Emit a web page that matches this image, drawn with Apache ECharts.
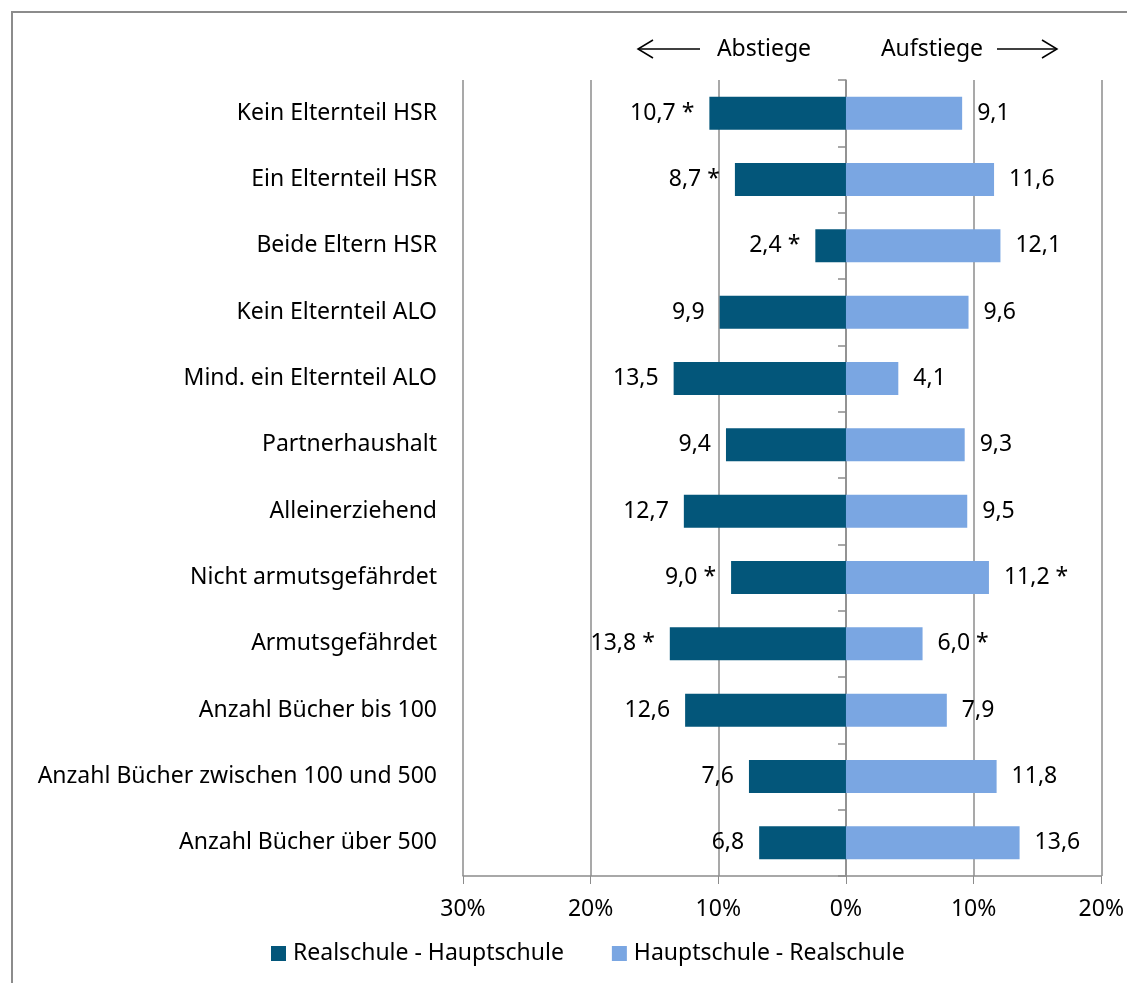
<!DOCTYPE html>
<html>
<head>
<meta charset="utf-8">
<script src="https://cdn.jsdelivr.net/npm/echarts@6/dist/echarts.min.js"></script>
<style>
  html, body { margin: 0; padding: 0; background: #fff; }
  #chart { width: 1127px; height: 983px; }
</style>
</head>
<body>
<div id="chart"></div>
<script>
// categories top to bottom
var categories = [
  'Kein Elternteil HSR',
  'Ein Elternteil HSR',
  'Beide Eltern HSR',
  'Kein Elternteil ALO',
  'Mind. ein Elternteil ALO',
  'Partnerhaushalt',
  'Alleinerziehend',
  'Nicht armutsgefährdet',
  'Armutsgefährdet',
  'Anzahl Bücher bis 100',
  'Anzahl Bücher zwischen 100 und 500',
  'Anzahl Bücher über 500'
];

// Abstiege (Realschule - Hauptschule), shown to the left
var abstiege = [10.7, 8.7, 2.4, 9.9, 13.5, 9.4, 12.7, 9.0, 13.8, 12.6, 7.6, 6.8];
var abstiegeSig = [true, true, true, false, false, false, false, true, true, false, false, false];

// Aufstiege (Hauptschule - Realschule), shown to the right
var aufstiege = [9.1, 11.6, 12.1, 9.6, 4.1, 9.3, 9.5, 11.2, 6.0, 7.9, 11.8, 13.6];
var aufstiegeSig = [false, false, false, false, false, false, false, true, true, false, false, false];

var seriesNames = ['Realschule - Hauptschule', 'Hauptschule - Realschule'];

var FONT = 'Noto Sans';
var FS = 23;
var GRAY = '#8c8c8c';

var fmt = function (v, star) {
  return Math.abs(v).toFixed(1).replace('.', ',') + (star ? ' *' : '');
};

var chart = echarts.init(document.getElementById('chart'));

var option = {
  animation: false,
  textStyle: { fontFamily: FONT },
  grid: { left: 463, right: 24, top: 80, bottom: 107 },
  xAxis: {
    type: 'value',
    min: -30,
    max: 20,
    interval: 10,
    axisLine: { show: true, lineStyle: { color: GRAY, width: 1.5 } },
    axisTick: { show: true, length: 8, lineStyle: { color: GRAY } },
    splitLine: { show: true, lineStyle: { color: GRAY, width: 1.5 } },
    axisLabel: {
      color: '#000', fontSize: FS, fontFamily: FONT, margin: 22,
      formatter: function (v) { return Math.abs(v) + '%'; }
    }
  },
  yAxis: [{
    type: 'category',
    inverse: true,
    data: categories,
    axisLine: { show: false, onZero: false },
    axisTick: { show: false },
    axisLabel: { color: '#000', fontSize: FS, fontFamily: FONT, margin: 26 }
  }, {
    // the zero line with its ticks
    type: 'category',
    position: 'left',
    inverse: true,
    data: categories,
    axisLine: { show: true, onZero: true, lineStyle: { color: GRAY, width: 1.5 } },
    axisTick: { show: true, length: 8, lineStyle: { color: GRAY, width: 1.5 } },
    axisLabel: { show: false }
  }],
  legend: {
    left: 266,
    top: 937,
    itemWidth: 15,
    itemHeight: 15,
    itemGap: 48,
    icon: 'rect',
    textStyle: { color: '#000', fontSize: FS, fontFamily: FONT, padding: [0, 0, 0, 2] },
    data: seriesNames
  },
  series: [{
    name: seriesNames[0],
    type: 'bar',
    barWidth: 33,
    barGap: '-100%',
    itemStyle: { color: '#03567a' },
    label: {
      show: true,
      position: 'left',
      distance: 15,
      color: '#000',
      fontSize: FS,
      fontFamily: FONT,
      formatter: function (p) { return fmt(p.value, abstiegeSig[p.dataIndex]); }
    },
    data: abstiege.map(function (v) { return -v; })
  }, {
    name: seriesNames[1],
    type: 'bar',
    barWidth: 33,
    itemStyle: { color: '#7aa6e2' },
    label: {
      show: true,
      position: 'right',
      distance: 15,
      color: '#000',
      fontSize: FS,
      fontFamily: FONT,
      formatter: function (p) { return fmt(p.value, aufstiegeSig[p.dataIndex]); }
    },
    data: aufstiege
  }],
  graphic: [
    { type: 'rect', shape: { x: 12, y: 12, width: 1200, height: 1100 },
      style: { fill: 'none', stroke: GRAY, lineWidth: 2 }, silent: true },
    { type: 'text', x: 764, y: 49,
      style: { text: 'Abstiege', font: FS + 'px "Noto Sans"', fill: '#000', align: 'center', verticalAlign: 'middle' } },
    { type: 'text', x: 932, y: 49,
      style: { text: 'Aufstiege', font: FS + 'px "Noto Sans"', fill: '#000', align: 'center', verticalAlign: 'middle' } },
    { type: 'line', shape: { x1: 638, y1: 49, x2: 700, y2: 49 }, style: { stroke: '#000', lineWidth: 1.5 } },
    { type: 'polyline', shape: { points: [[653, 40], [638, 49], [653, 58]] }, style: { stroke: '#000', lineWidth: 1.5, fill: 'none' } },
    { type: 'line', shape: { x1: 997, y1: 49, x2: 1057, y2: 49 }, style: { stroke: '#000', lineWidth: 1.5 } },
    { type: 'polyline', shape: { points: [[1042, 40], [1057, 49], [1042, 58]] }, style: { stroke: '#000', lineWidth: 1.5, fill: 'none' } }
  ]
};

chart.setOption(option);
</script>
</body>
</html>
